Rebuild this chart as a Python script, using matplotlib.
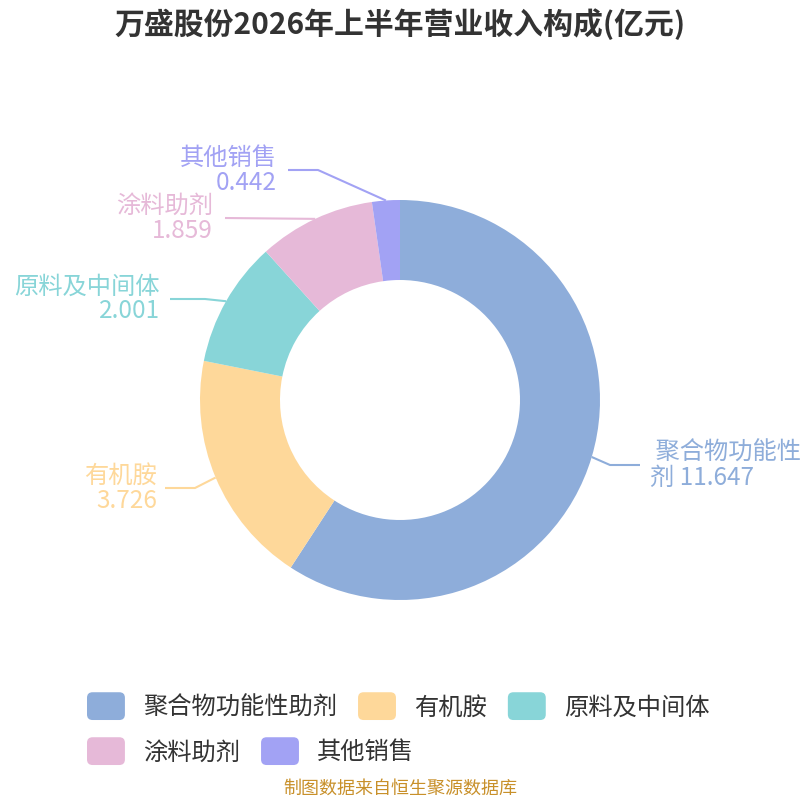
import matplotlib
matplotlib.use('Agg')
import matplotlib.pyplot as plt
from matplotlib.patches import FancyBboxPatch
from matplotlib.legend_handler import HandlerPatch
import numpy as np

plt.rcParams['font.family'] = ['Noto Sans CJK SC', 'DejaVu Sans']

# Data
categories = ['聚合物功能性助剂', '有机胺', '原料及中间体', '涂料助剂', '其他销售']
values = [11.647, 3.726, 2.001, 1.859, 0.442]
colors = ['#8EADDA', '#FED89A', '#88D5D8', '#E6B9D8', '#A2A2F4']
title = '万盛股份2026年上半年营业收入构成(亿元)'
source = '制图数据来自恒生聚源数据库'

fig = plt.figure(figsize=(8, 8), dpi=100)
ax = fig.add_axes([0, 0, 1, 1])
ax.set_xlim(0, 800)
ax.set_ylim(0, 800)
ax.set_aspect('equal')
ax.axis('off')

cx, cy, R = 400, 400, 200
wedges, _ = ax.pie(values, colors=colors, startangle=90, counterclock=False,
                   radius=R, center=(cx, cy),
                   wedgeprops=dict(width=80, linewidth=0))
ax.set_xlim(0, 800)
ax.set_ylim(0, 800)

# label layout: (elbow x, elbow y, end x, text x, align, label text)
layout = {
    0: (610, 335, 640, 650, 'left', ' 聚合物功能性\n剂 11.647'),
    1: (195, 312, 165, 157, 'right', None),
    2: (205, 501, 170, 160, 'right', None),
    3: (225, 582, 225, 213, 'right', None),
    4: (318, 630, 288, 277, 'right', None),
}

for i, w in enumerate(wedges):
    ang = np.deg2rad((w.theta1 + w.theta2) / 2)
    px = cx + R * np.cos(ang)
    py = cy + R * np.sin(ang)
    ex, ey, endx, tx, ha, txt = layout[i]
    ax.plot([px, ex, endx], [py, ey, ey], color=colors[i], lw=1.5,
            solid_capstyle='butt')
    if txt is None:
        txt = f'{categories[i]}\n{values[i]}'
    ax.text(tx, ey, txt, ha=ha, va='center', fontsize=17.5, color=colors[i],
            linespacing=0.95)

fig.text(0.5, 1 - 24 / 800, title, ha='center', va='center', fontsize=21.5,
         fontweight='bold', color='#333333')
fig.text(0.5, 1 - 789 / 800, source, ha='center', va='center', fontsize=13,
         color='#C8902A')


class RoundHandler(HandlerPatch):
    def create_artists(self, legend, orig_handle, xdescent, ydescent,
                       width, height, fontsize, trans):
        h = 20
        p = FancyBboxPatch((-xdescent, -ydescent + (height - h) / 2), width, h,
                           boxstyle='round,pad=0,rounding_size=4',
                           facecolor=orig_handle.get_facecolor(),
                           edgecolor='none', transform=trans)
        return [p]


hmap = {w: RoundHandler() for w in wedges}
leg_kw = dict(frameon=False, fontsize=17.5, handlelength=1.56, handleheight=1.2,
              handletextpad=0.75, columnspacing=0.86, borderpad=0,
              borderaxespad=0, handler_map=hmap, labelcolor='#333333')
leg1 = fig.legend(wedges[:3], categories[:3], ncol=3, loc='center left',
                  bbox_to_anchor=(87 / 800, 1 - 707 / 800), **leg_kw)
leg2 = fig.legend(wedges[3:], categories[3:], ncol=2, loc='center left',
                  bbox_to_anchor=(87 / 800, 1 - 752 / 800), **leg_kw)

fig.savefig('out.png', dpi=100)
